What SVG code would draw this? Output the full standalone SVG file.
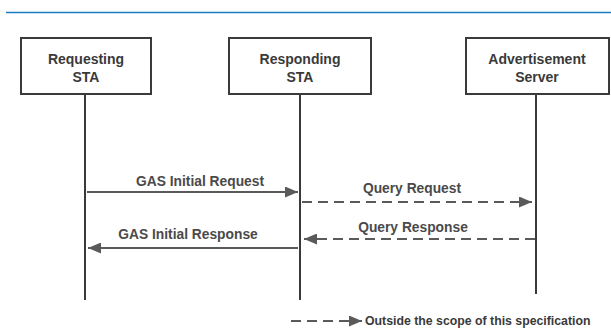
<svg xmlns="http://www.w3.org/2000/svg" width="611" height="328" viewBox="0 0 611 328">
<defs>
<style>
.box{fill:#fff;stroke:#3a3a3a;stroke-width:2}
.lt{font-family:"Liberation Sans",Arial,sans-serif;font-weight:bold;font-size:14px;fill:#3a3a3a;text-anchor:middle}
.life{stroke:#3a3a3a;stroke-width:2}
.msg{stroke:#5a5a5a;stroke-width:2;fill:none}
.dash{stroke-dasharray:10 6}
.ml{font-family:"Liberation Sans",Arial,sans-serif;font-weight:bold;font-size:13.8px;fill:#4a4a4a;text-anchor:middle}
</style>
<marker id="ah" viewBox="0 0 13 11" refX="13" refY="5.5" markerWidth="13" markerHeight="11" markerUnits="userSpaceOnUse" orient="auto">
<path d="M0,0 L13,5.5 L0,11 Z" fill="#5a5a5a"/>
</marker>
</defs>
<rect width="611" height="328" fill="#fff"/>
<line x1="6" y1="12.5" x2="611" y2="12.5" stroke="#1b7bc2" stroke-width="1.5"/>
<g id="requesting-sta">
<rect class="box" x="21" y="38" width="130" height="56"/>
<text class="lt" x="86" y="64">Requesting</text>
<text class="lt" x="86" y="82">STA</text>
<line class="life" x1="85" y1="94" x2="85" y2="300"/>
</g>
<g id="responding-sta">
<rect class="box" x="229" y="38" width="142" height="56"/>
<text class="lt" x="300" y="64">Responding</text>
<text class="lt" x="300" y="82">STA</text>
<line class="life" x1="300" y1="94" x2="300" y2="300"/>
</g>
<g id="advertisement-server">
<rect class="box" x="466" y="38" width="143" height="56"/>
<text class="lt" x="537" y="64">Advertisement</text>
<text class="lt" x="537" y="82">Server</text>
<line class="life" x1="536" y1="94" x2="536" y2="294"/>
</g>
<g id="connectors">
<line class="msg" x1="87" y1="192" x2="298" y2="192" marker-end="url(#ah)"/>
<line class="msg dash" x1="302" y1="202" x2="532" y2="202" marker-end="url(#ah)"/>
<line class="msg dash" x1="535" y1="239" x2="304" y2="239" marker-end="url(#ah)"/>
<line class="msg" x1="298" y1="248" x2="88" y2="248" marker-end="url(#ah)"/>
<line class="msg dash" x1="291" y1="321" x2="362" y2="321" marker-end="url(#ah)"/>
</g>
<g id="labels">
<text class="ml" x="200" y="186">GAS Initial Request</text>
<text class="ml" x="412" y="193">Query Request</text>
<text class="ml" x="413" y="232">Query Response</text>
<text class="ml" x="188" y="239">GAS Initial Response</text>
<text x="365" y="325" font-family="Liberation Sans, Arial, sans-serif" font-weight="bold" font-size="12.3" fill="#3a3a3a">Outside the scope of this specification</text>
</g>
</svg>
